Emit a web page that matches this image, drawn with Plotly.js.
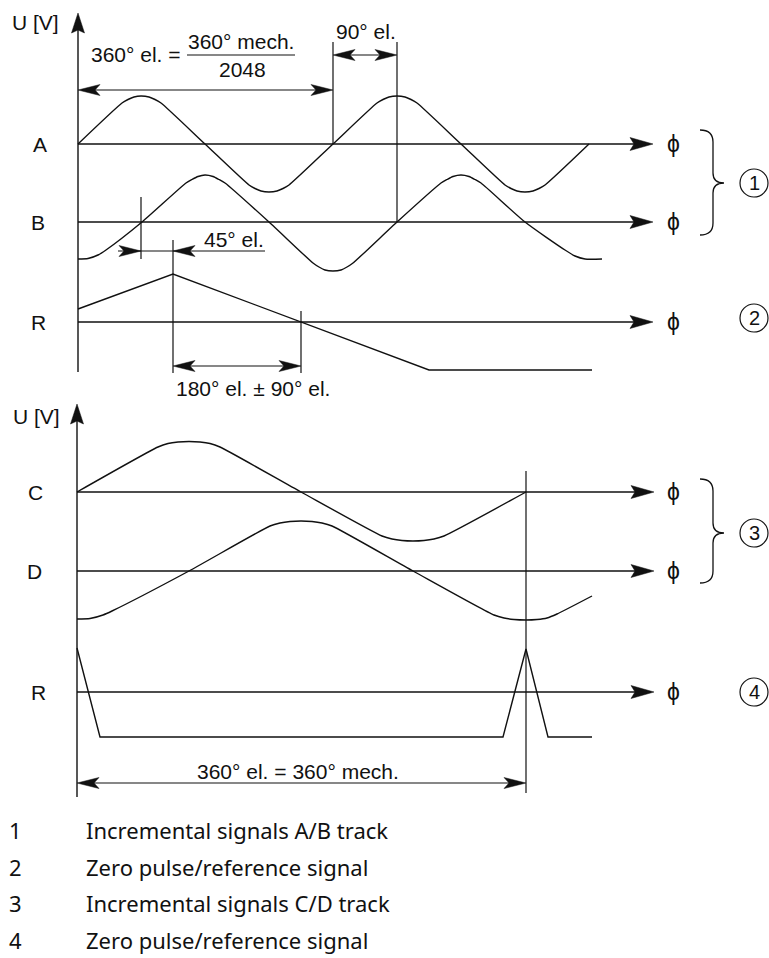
<!DOCTYPE html>
<html>
<head>
<meta charset="utf-8">
<script src="https://cdn.plot.ly/plotly-3.0.1.min.js"></script>
<style>html,body{margin:0;padding:0;background:#fff;}#chart{width:769px;height:958px;}</style>
</head>
<body>
<div id="chart"></div>
<script>
// ---------- data (diagram units = pixels) ----------
// Signal A (track A/B, top)
const aX = [78,122,128,134,141,149,155,161,205,249,255,261,269,277,283,289,333,377,383,389,397,405,411,417,461,505,511,517,525,533,539,545,589];
const aY = [144,103,99.5,97,96,97,99.5,103,144,185,188.5,191,192,191,188.5,185,144,103,99.5,97,96,97,99.5,103,144,185,188.5,191,192,191,188.5,185,144];
// Signal B
const bX = [78,88,98,106,142,186,192,198,205,213,219,225,269,313,319,325,333,341,347,353,397,441,447,453,461,469,475,481,525,565,575,585,602];
const bY = [259,258.5,255,250,222,183,179.5,176.5,175,176.5,179.5,183,222,263,267,270,271,270,267,263,222,183,179.5,176.5,175,176.5,179.5,183,222,250,256,259,259];
// Reference signal R (2)
const r2X = [78,173,429,592];
const r2Y = [309,274,370,370];
// Signal C (track C/D)
const cX = [77,158,168,178,189,200,210,220,301,382,392,402,413,424,434,444,526];
const cY = [492,447,443.5,442,441.5,442,443.5,447,492,536,539,540.5,541,540.5,539,536,492];
// Signal D
const dX = [77,90,103,112,189,270,280,290,301,312,322,332,413,494,504,514,526,537,547,557,592];
const dY = [619,618.5,615,611,571,526,523,521.5,521,521.5,523,526,571,615,618,619.5,620,619.5,618,614,596];
// Reference signal R (4)
const r4X = [77,100,503,526,548,592];
const r4Y = [648,737,737,649,737,737];

// Phi axes (horizontal)
const phiAxisY = [144,222,322,492,571,692];
const phiAxisX0 = [78,78,78,77,77,77];
const phiAxisX1 = [653,653,653,654,654,654];
const signalLabels = ['A','B','R','C','D','R'];
const signalLabelX = [40,38,38,35,34,38];
// U [V] axes (vertical)
const uAxisX = [78,77];
const uAxisTop = [13,404];
const uAxisBottom = [372,797];
// Extension lines
const extX = [333,397,141,173,301,526];
const extTop = [42,42,197,240,311,471];
const extBottom = [144,222,259,373,373,793];
// Double-headed dimension arrows
const dimY = [90,55,366,783];
const dimX0 = [78,333,173,77];
const dimX1 = [333,397,301,526];
// 45 deg dimension (arrows pointing inwards)
const dim45Y = 251, dim45X0 = 118, dim45X1 = 265, dim45TipL = 141, dim45TipR = 173;
// Braces and circled numbers
const braceTop = [130,479], braceMid = [183,533], braceBottom = [235,583];
const circleNums = ['1','2','3','4'];
const circleY = [183,318,533,692];
// Legend
const legendNums = ['1','2','3','4'];
const legendTexts = ['Incremental signals A/B track','Zero pulse/reference signal','Incremental signals C/D track','Zero pulse/reference signal'];
const legendY = [830,867,903,940];

// ---------- drawing ----------
const FONT = 'Liberation Sans, Arial, sans-serif';
const INK = '#111';
const LW = 1.4;
const traces = [];
function line(xs, ys, w) {
  traces.push({x: xs, y: ys, mode: 'lines', type: 'scatter', hoverinfo: 'skip',
    line: {color: INK, width: w || LW, shape: 'linear'}});
}
function curve(xs, ys) {
  traces.push({x: xs, y: ys, mode: 'lines', type: 'scatter', hoverinfo: 'skip',
    line: {color: INK, width: LW, shape: 'spline', smoothing: 0.6}});
}
const heads = {x: [], y: []};
function head(tx, ty, ux, uy, L, W, N) {
  const nx = -uy, ny = ux;
  const bx = tx - ux * L, by = ty - uy * L;
  heads.x.push(tx, bx + nx * W, tx - ux * (L - N), bx - nx * W, tx, null);
  heads.y.push(ty, by + ny * W, ty - uy * (L - N), by - ny * W, ty, null);
}

curve(aX, aY); curve(bX, bY); line(r2X, r2Y);
curve(cX, cY); curve(dX, dY); line(r4X, r4Y);

phiAxisY.forEach((y, i) => {
  line([phiAxisX0[i], phiAxisX1[i] - 10], [y, y]);
  head(phiAxisX1[i], y, 1, 0, 23, 6.5, 4);
});
uAxisX.forEach((x, i) => {
  line([x, x], [uAxisTop[i] + 10, uAxisBottom[i]]);
  head(x, uAxisTop[i], 0, -1, 20, 6.5, 3);
});
extX.forEach((x, i) => line([x, x], [extTop[i], extBottom[i]], 1.2));
dimY.forEach((y, i) => {
  line([dimX0[i] + 5, dimX1[i] - 5], [y, y], 1.2);
  head(dimX0[i], y, -1, 0, 22, 5.5, 5);
  head(dimX1[i], y, 1, 0, 22, 5.5, 5);
});
line([dim45X0, dim45X1], [dim45Y, dim45Y], 1.2);
head(dim45TipL, dim45Y, 1, 0, 22, 5.5, 5);
head(dim45TipR, dim45Y, -1, 0, 22, 5.5, 5);
line([187, 295], [55, 55], 1.2); // fraction bar

traces.push({x: heads.x, y: heads.y, mode: 'lines', type: 'scatter', fill: 'toself',
  fillcolor: INK, line: {color: INK, width: 0.5}, hoverinfo: 'skip'});

const shapes = [];
braceTop.forEach((t, i) => {
  const m = braceMid[i], b = braceBottom[i];
  shapes.push({type: 'path', xref: 'x', yref: 'y', line: {color: INK, width: 1.3},
    path: `M 700 ${t} Q 713 ${t} 713 ${t + 12} L 713 ${m - 10} Q 713 ${m} 724 ${m} Q 713 ${m} 713 ${m + 10} L 713 ${b - 12} Q 713 ${b} 700 ${b}`});
});
circleY.forEach((y) => {
  shapes.push({type: 'circle', xref: 'x', yref: 'y', x0: 740, x1: 768, y0: y - 14, y1: y + 14,
    line: {color: INK, width: 1.2}});
});

const ann = [];
function txt(x, y, s, size, anchor, family) {
  ann.push({x: x, y: y, xref: 'x', yref: 'y', text: s, showarrow: false,
    xanchor: anchor || 'center', yanchor: 'middle',
    font: {family: family || FONT, size: size || 21, color: INK}});
}
txt(35, 22, 'U [V]'); txt(36, 416, 'U [V]');
signalLabels.forEach((s, i) => txt(signalLabelX[i], phiAxisY[i], s));
phiAxisY.forEach((y) => txt(673, y, '\u03D5', 23));
txt(89, 54, '360° el. =', 21, 'left');
txt(241, 41, '360° mech.');
txt(242, 69, '2048');
txt(366, 31, '90° el.');
txt(202, 239, '45° el.', 21, 'left');
txt(253, 388, '180° el. ± 90° el.');
txt(298, 771, '360° el. = 360° mech.');
circleNums.forEach((s, i) => txt(754, circleY[i], s, 20));
legendNums.forEach((s, i) => {
  txt(15, legendY[i], s, 22, 'center', 'Noto Sans, Open Sans, sans-serif');
  txt(84, legendY[i], legendTexts[i], 22, 'left', 'Noto Sans, Open Sans, sans-serif');
});

const layout = {
  width: 769, height: 958, margin: {l: 0, r: 0, t: 0, b: 0},
  paper_bgcolor: '#fff', plot_bgcolor: '#fff', showlegend: false,
  xaxis: {range: [0, 769], visible: false, fixedrange: true},
  yaxis: {range: [958, 0], visible: false, fixedrange: true},
  shapes: shapes, annotations: ann
};
Plotly.newPlot('chart', traces, layout, {staticPlot: true, displayModeBar: false});
</script>
</body>
</html>
